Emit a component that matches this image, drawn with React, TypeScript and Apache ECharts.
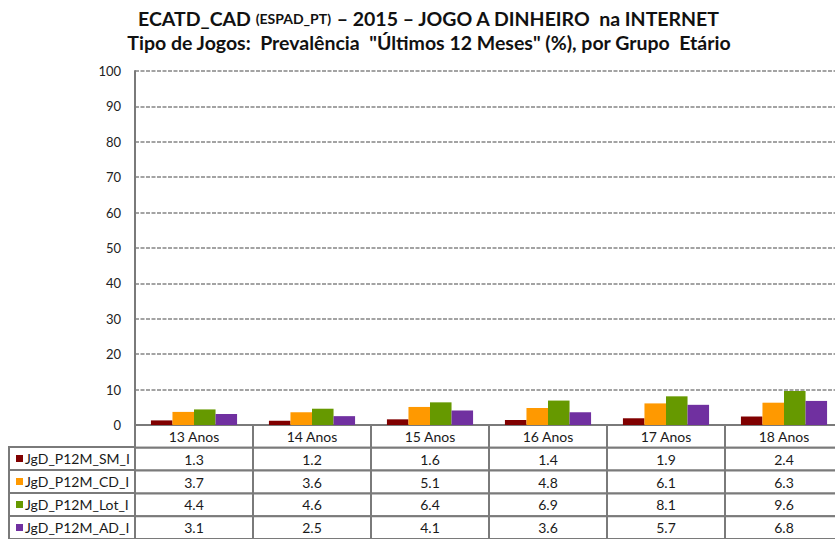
import React, { useEffect, useRef } from "react";
import * as echarts from "echarts";

const categories = ["13 Anos", "14 Anos", "15 Anos", "16 Anos", "17 Anos", "18 Anos"];
const seriesNames = ["JgD_P12M_SM_I", "JgD_P12M_CD_I", "JgD_P12M_Lot_I", "JgD_P12M_AD_I"];
const smValues = [1.3, 1.2, 1.6, 1.4, 1.9, 2.4];
const cdValues = [3.7, 3.6, 5.1, 4.8, 6.1, 6.3];
const lotValues = [4.4, 4.6, 6.4, 6.9, 8.1, 9.6];
const adValues = [3.1, 2.5, 4.1, 3.6, 5.7, 6.8];
const seriesColors = ["#800000", "#FF9900", "#669900", "#7030A0"];
const yMin = 0;
const yMax = 100;
const yStep = 10;

const allValues = [smValues, cdValues, lotValues, adValues];
const FONT = "Lato";
const BORDER = "#7a7a7a";

export default function App() {
  const ref = useRef<HTMLDivElement>(null);
  useEffect(() => {
    if (!ref.current) return;
    const chart = echarts.init(ref.current, null, { renderer: "svg" });

    const tableCells: { c: number; r: number; label: string }[] = [];
    categories.forEach((cat, c) => {
      tableCells.push({ c, r: 0, label: cat });
      allValues.forEach((vals, i) => {
        tableCells.push({ c, r: i + 1, label: vals[c].toFixed(1) });
      });
    });

    const legendCells = seriesNames.map((n, i) => ({ r: i, label: n, color: seriesColors[i] }));

    const option: any = {
      animation: false,
      backgroundColor: "#ffffff",
      title: {
        left: 424,
        top: 1,
        textAlign: "center",
        text:
          "{a|ECATD_CAD }{b|(ESPAD_PT)}{a| – 2015 – JOGO A DINHEIRO  na INTERNET}\n{a|Tipo de Jogos:  Prevalência  \"Últimos 12 Meses\" (%), por Grupo  Etário}",
        textStyle: {
          rich: {
            a: { fontFamily: FONT, fontWeight: "bold", fontSize: 19.5, color: "#111", lineHeight: 24 },
            b: { fontFamily: FONT, fontWeight: "bold", fontSize: 14, color: "#111", lineHeight: 24 },
          },
        },
      },
      grid: [
        { left: 135, right: 0, top: 71, bottom: 114 },
        { left: 135, right: 0, top: 425, bottom: 0 },
        { left: 9, width: 126, top: 447, bottom: 0 },
      ],
      xAxis: [
        {
          gridIndex: 0,
          type: "category",
          data: categories,
          axisLine: { show: true, lineStyle: { color: BORDER, width: 2 } },
          axisTick: { show: false },
          axisLabel: { show: false },
        },
        { gridIndex: 1, type: "category", data: categories, show: false },
        { gridIndex: 2, type: "category", data: ["key"], show: false },
      ],
      yAxis: [
        {
          gridIndex: 0,
          type: "value",
          min: yMin,
          max: yMax,
          interval: yStep,
          axisLine: { show: true, lineStyle: { color: BORDER, width: 2 } },
          axisTick: { show: false },
          axisLabel: { color: "#222", fontFamily: FONT, fontSize: 13, margin: 14 },
          splitLine: { show: true, lineStyle: { color: "#858585", width: 1.5, type: [4, 1.5] } },
        },
        { gridIndex: 1, type: "category", data: ["hdr", ...seriesNames], inverse: true, show: false },
        { gridIndex: 2, type: "category", data: seriesNames, inverse: true, show: false },
      ],
      series: [
        ...allValues.map((vals, i) => ({
          name: seriesNames[i],
          type: "bar",
          xAxisIndex: 0,
          yAxisIndex: 0,
          data: vals,
          barGap: "0%",
          barCategoryGap: "27%",
          itemStyle: { color: seriesColors[i] },
        })),
        {
          type: "custom",
          xAxisIndex: 1,
          yAxisIndex: 1,
          data: tableCells.map((t) => [t.c, t.r]),
          renderItem: (params: any, api: any) => {
            const cell = tableCells[params.dataIndex];
            const p = api.coord([cell.c, cell.r]);
            const s = api.size([1, 1]);
            return {
              type: "group",
              children: [
                {
                  type: "rect",
                  shape: { x: p[0] - s[0] / 2, y: p[1] - s[1] / 2, width: s[0], height: s[1] },
                  style: { fill: "#ffffff", stroke: BORDER, lineWidth: 2 },
                },
                {
                  type: "text",
                  style: {
                    text: cell.label,
                    x: p[0],
                    y: p[1],
                    align: "center",
                    verticalAlign: "middle",
                    fill: "#1a1a1a",
                    font: `14px ${FONT}`,
                  },
                },
              ],
            };
          },
        },
        {
          type: "custom",
          xAxisIndex: 2,
          yAxisIndex: 2,
          data: legendCells.map((l) => [0, l.r]),
          renderItem: (params: any, api: any) => {
            const cell = legendCells[params.dataIndex];
            const p = api.coord([0, cell.r]);
            const s = api.size([1, 1]);
            const x0 = p[0] - s[0] / 2;
            return {
              type: "group",
              children: [
                {
                  type: "rect",
                  shape: { x: x0, y: p[1] - s[1] / 2, width: s[0], height: s[1] },
                  style: { fill: "#ffffff", stroke: BORDER, lineWidth: 2 },
                },
                {
                  type: "rect",
                  shape: { x: x0 + 7, y: p[1] - 3.5, width: 7, height: 7 },
                  style: { fill: cell.color },
                },
                {
                  type: "text",
                  style: {
                    text: cell.label,
                    x: x0 + 16,
                    y: p[1],
                    align: "left",
                    verticalAlign: "middle",
                    fill: "#1a1a1a",
                    font: `14px ${FONT}`,
                  },
                },
              ],
            };
          },
        },
      ],
    };
    chart.setOption(option);
    return () => chart.dispose();
  }, []);

  return (
    <div style={{ position: "fixed", left: 0, top: 0, width: 835, height: 539, overflow: "hidden", background: "#fff" }}>
      <div ref={ref} style={{ width: 843, height: 539 }} />
    </div>
  );
}
